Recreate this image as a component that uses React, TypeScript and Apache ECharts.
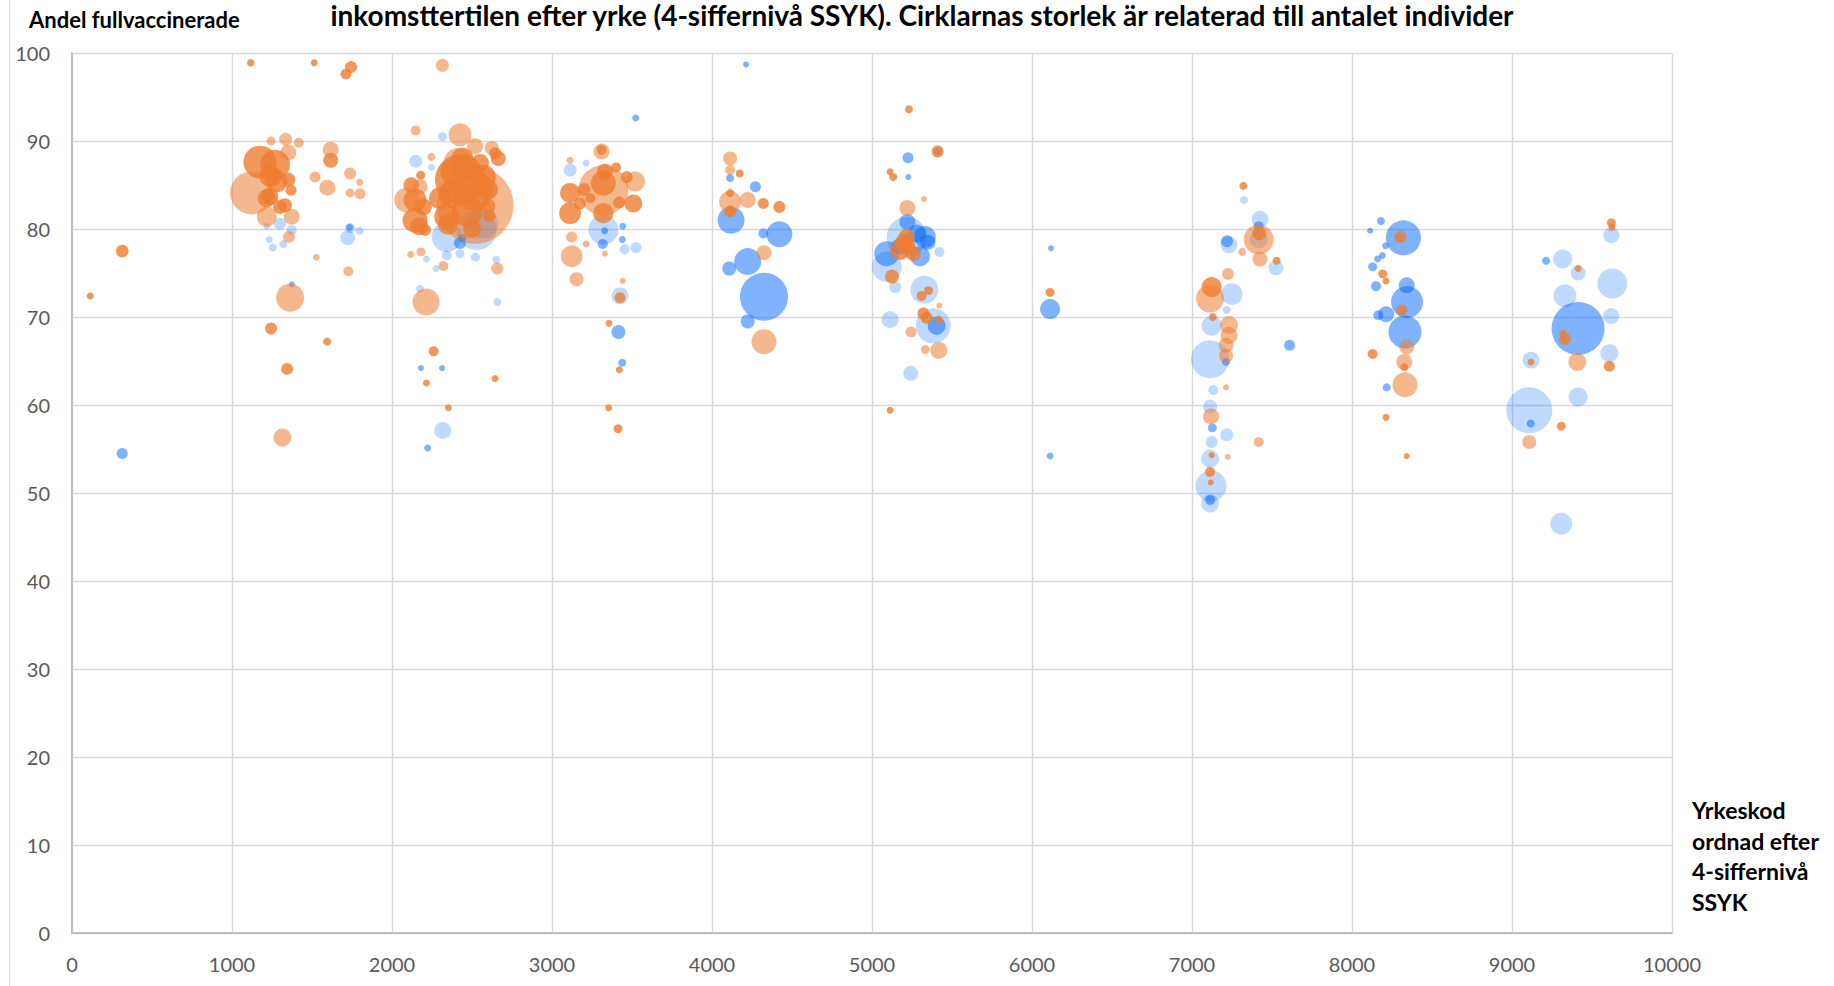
import React, { useEffect, useRef } from "react";
import * as echarts from "echarts";

// ---- Data: [yrkeskod, andel fullvaccinerade (%), antal individer] ----
const xMin = 0;
const xMax = 10000;
const xStep = 1000;
const yMin = 0;
const yMax = 100;
const yStep = 10;

const titleText =
  "inkomsttertilen efter yrke (4-siffernivå SSYK). Cirklarnas storlek är relaterad till antalet individer";
const yAxisName = "Andel fullvaccinerade";
const xAxisNameLines = ["Yrkeskod", "ordnad efter", "4-siffernivå", "SSYK"];

const blueLight: number[][] = [
  [1300, 80.6, 900], [1233, 78.8, 300], [1254, 77.9, 400], [1321, 78.3, 400], [1217, 80.3, 300],
  [1373, 79.9, 625], [1738, 80.1, 625], [1723, 79.0, 1400], [1796, 79.8, 400],
  [2315, 90.5, 500], [2148, 87.7, 1050], [2246, 87.0, 300], [2342, 79.1, 5600], [2529, 79.9, 10000],
  [2342, 77.0, 625], [2425, 77.2, 500], [2521, 76.8, 500], [2215, 76.6, 300], [2275, 75.5, 300],
  [2652, 76.5, 400], [2175, 73.2, 400], [2658, 71.7, 400], [2317, 57.1, 1800], [2571, 80.6, 5600],
  [3213, 87.5, 300], [3113, 86.7, 1050], [3321, 79.9, 5600], [3454, 77.7, 625], [3525, 77.9, 750],
  [3425, 72.4, 1800],
  [5217, 79.1, 10000], [5092, 75.7, 5600], [5421, 77.4, 625], [5144, 73.4, 900], [5327, 73.1, 4900],
  [5113, 69.7, 1800], [5383, 69.0, 7650], [5242, 63.6, 1400],
  [7325, 83.3, 400], [7425, 81.1, 1800], [7417, 78.8, 2000], [7231, 78.2, 1800], [7525, 75.6, 1400],
  [7248, 72.6, 3000], [7217, 70.8, 400], [7123, 69.0, 2500], [7113, 65.2, 9000], [7133, 61.7, 625],
  [7113, 59.8, 1225], [7217, 56.6, 1050], [7123, 55.8, 900], [7113, 53.9, 2000], [7119, 50.8, 6000],
  [7113, 48.8, 2000],
  [9621, 79.3, 1600], [9317, 76.6, 2250], [9413, 75.0, 1400], [9627, 73.8, 5600], [9331, 72.4, 3300],
  [9619, 70.1, 1600], [9608, 65.9, 2000], [9119, 65.1, 1800], [9413, 60.9, 2250], [9108, 59.4, 13200],
  [9308, 46.5, 3000],
];

const blueMid: number[][] = [
  [314, 54.5, 750], [1373, 73.7, 225], [1735, 80.2, 300],
  [2181, 64.2, 225], [2313, 64.2, 225], [2223, 55.1, 300], [2425, 78.4, 900], [2440, 79.0, 400],
  [3523, 92.6, 300], [3317, 78.3, 625], [3330, 79.8, 300], [3442, 80.3, 300], [3415, 68.3, 1225],
  [3439, 64.8, 400], [3440, 78.8, 300],
  [4213, 98.7, 225], [4113, 85.8, 400], [4271, 84.8, 750], [4119, 81.0, 4550], [4321, 79.5, 625],
  [4421, 79.4, 4200], [4223, 76.3, 4550], [4108, 75.5, 1225], [4325, 72.3, 14400], [4223, 69.5, 1225],
  [5225, 88.1, 750], [5227, 85.9, 225], [5410, 88.8, 400], [5221, 80.8, 1600], [5331, 79.1, 3000],
  [5350, 78.5, 1400], [5092, 77.2, 3900], [5300, 76.9, 2500], [5280, 79.5, 2000], [5404, 69.0, 2000],
  [5170, 78.0, 1600],
  [6119, 77.8, 225], [6113, 70.9, 2500], [6113, 54.2, 300],
  [7417, 80.3, 625], [7219, 78.6, 900], [7610, 66.8, 750], [7213, 64.9, 400], [7127, 57.4, 500],
  [7113, 49.2, 625],
  [8181, 80.9, 400], [8113, 79.8, 225], [8321, 79.0, 7650], [8210, 78.1, 300], [8190, 77.0, 300],
  [8160, 76.6, 300], [8129, 75.7, 500], [8150, 73.5, 625], [8342, 73.6, 1600], [8344, 71.7, 6400],
  [8213, 70.3, 1600], [8165, 70.2, 625], [8331, 68.3, 6800], [8217, 62.0, 400],
  [9213, 76.4, 400], [9413, 68.7, 17500], [9117, 57.9, 400],
];

const orangePale: number[][] = [
  [1244, 90.0, 500], [1335, 90.2, 1050], [1417, 89.8, 625], [1352, 88.7, 1600], [1123, 84.1, 11550],
  [1217, 81.4, 2500], [1373, 81.4, 1600], [1356, 79.1, 900], [1519, 85.9, 750], [1617, 89.0, 1600],
  [1596, 84.7, 1600], [1738, 86.3, 900], [1798, 85.3, 300], [1738, 84.1, 500], [1800, 84.0, 750],
  [1527, 76.8, 300], [1727, 75.2, 625], [1363, 72.2, 4900], [1315, 56.3, 2000],
  [2315, 98.6, 1050], [2148, 91.2, 625], [2425, 90.7, 3300], [2519, 89.4, 1600], [2623, 89.2, 1225],
  [2246, 88.2, 400], [2092, 83.3, 3900], [2175, 84.8, 1400], [2519, 82.7, 37000], [2415, 87.5, 5600],
  [2117, 77.1, 300], [2181, 77.4, 500], [2321, 75.8, 625], [2658, 75.5, 900], [2213, 71.7, 4550],
  [3113, 87.8, 300], [3310, 88.8, 1600], [3321, 84.4, 15600], [3519, 85.4, 2500], [3214, 78.3, 300],
  [3331, 77.2, 225], [3123, 79.1, 750], [3123, 76.9, 3000], [3154, 74.3, 1225], [3442, 74.1, 225],
  [4113, 88.0, 1225], [4113, 86.7, 625], [4113, 83.1, 3000], [4223, 83.3, 1600], [4325, 77.3, 1400],
  [4325, 67.2, 3900],
  [5325, 83.4, 225], [5221, 82.4, 1600], [5421, 71.3, 225], [5244, 68.3, 750], [5333, 66.3, 500],
  [5417, 66.2, 1800],
  [7417, 78.8, 5600], [7425, 76.6, 1400], [7314, 77.4, 400], [7225, 74.9, 900], [7113, 72.1, 4900],
  [7231, 69.1, 2000], [7231, 67.9, 1800], [7213, 66.8, 1400], [7213, 65.6, 1225], [7213, 62.0, 225],
  [7119, 58.7, 1600], [7417, 55.8, 625], [7223, 54.1, 225],
  [8342, 66.6, 1400], [8327, 64.9, 1600], [8331, 62.3, 3900],
  [9408, 64.9, 2000], [9108, 55.8, 1225],
];

const orangeSolid: number[][] = [
  [314, 77.5, 1000], [114, 72.4, 300],
  [1117, 98.9, 350], [1514, 98.9, 300], [1744, 98.4, 900], [1712, 97.6, 750], [1175, 87.6, 6800],
  [1269, 87.3, 5600], [1279, 85.4, 3000], [1352, 85.6, 1225], [1369, 84.4, 750], [1237, 83.7, 1800],
  [1300, 82.5, 1225], [1217, 83.5, 2000], [1331, 82.7, 1225], [1617, 87.8, 1400], [1244, 68.7, 900],
  [1594, 67.2, 400], [1344, 64.1, 900], [1240, 86.0, 3000],
  [2645, 88.6, 900], [2664, 88.0, 1400], [2179, 86.1, 500], [2144, 83.3, 3300], [2144, 81.0, 3900],
  [2196, 82.5, 1800], [2206, 79.9, 900], [2120, 85.0, 1500], [2170, 80.3, 2000],
  [2425, 85.6, 15600], [2508, 84.4, 10000], [2342, 81.4, 3900],
  [2571, 85.9, 3900], [2600, 82.6, 1400], [2610, 81.5, 900], [2470, 82.0, 6000], [2380, 86.5, 4000],
  [2550, 87.5, 2000], [2300, 83.5, 3000], [2380, 84.0, 5000], [2460, 87.0, 4000], [2600, 84.5, 2500],
  [2350, 80.5, 2500], [2500, 80.0, 2000],
  [2260, 66.1, 625], [2215, 62.5, 300], [2644, 63.0, 300], [2352, 59.7, 300],
  [2440, 88.0, 3000],
  [3310, 89.0, 600], [3321, 85.2, 3900], [3113, 84.1, 2500], [3113, 81.8, 3000], [3321, 81.8, 2500],
  [3508, 82.9, 2000], [3467, 85.9, 900], [3400, 87.0, 625], [3175, 82.9, 900], [3240, 83.5, 625],
  [3420, 83.0, 900], [3356, 69.3, 300], [3425, 72.2, 750], [3421, 64.0, 300], [3354, 59.7, 300],
  [3413, 57.3, 500], [3330, 86.5, 1600], [3200, 84.5, 1000],
  [4173, 86.3, 400], [4113, 84.1, 400], [4321, 82.9, 750], [4421, 82.5, 900], [4113, 82.0, 900],
  [5231, 93.6, 400], [5410, 88.8, 900], [5113, 86.5, 300], [5133, 85.9, 400], [5217, 79.1, 1600],
  [5175, 77.6, 2500], [5258, 77.2, 1400], [5225, 78.0, 1400], [5125, 74.6, 1225], [5354, 73.0, 500],
  [5310, 72.4, 625], [5321, 70.4, 900], [5342, 69.9, 900], [5417, 69.7, 400], [5113, 59.4, 300],
  [5200, 78.5, 1800],
  [6113, 72.8, 500],
  [7321, 84.9, 400], [7529, 76.4, 400], [7123, 73.4, 2500], [7130, 70.0, 400], [7117, 51.2, 225],
  [7113, 52.4, 625], [7123, 54.3, 225], [7420, 79.5, 1200],
  [8302, 79.1, 900], [8192, 74.9, 500], [8213, 74.1, 300], [8311, 70.8, 750], [8129, 65.8, 625],
  [8327, 64.3, 400], [8213, 58.6, 300], [8342, 54.2, 225],
  [9621, 80.7, 500], [9625, 80.2, 300], [9413, 75.5, 300], [9321, 68.1, 400], [9331, 67.5, 900],
  [9608, 64.4, 750], [9119, 64.9, 300], [9308, 57.6, 500],
];

const SIZE_FACTOR = 0.4;
const FONT = "Lato, 'Liberation Sans', sans-serif";

function bubble(name: string, data: number[][], color: string) {
  return {
    name,
    type: "scatter",
    data,
    symbol: "circle",
    symbolSize: (v: number[]) => Math.sqrt(v[2]) * SIZE_FACTOR,
    itemStyle: { color, borderWidth: 0, opacity: 1 },
    emphasis: { disabled: true },
    silent: true,
  };
}

export default function App() {
  const ref = useRef<HTMLDivElement>(null);
  useEffect(() => {
    document.body.style.margin = "0";
    const chart = echarts.init(ref.current!, null, { renderer: "svg" });
    chart.setOption({
      animation: false,
      backgroundColor: "#ffffff",
      grid: { left: 72, top: 53, width: 1600, height: 880, containLabel: false },
      xAxis: {
        type: "value",
        min: xMin,
        max: xMax,
        interval: xStep,
        axisLine: { show: true, lineStyle: { color: "#bfbfbf", width: 2 } },
        axisTick: { show: false },
        splitLine: { show: true, lineStyle: { color: "#d9d9d9", width: 1.4 } },
        axisLabel: {
          color: "#595959",
          fontSize: 20,
          fontFamily: FONT,
          margin: 21,
          formatter: (v: number) => String(v),
        },
      },
      yAxis: {
        type: "value",
        min: yMin,
        max: yMax,
        interval: yStep,
        axisLine: { show: true, lineStyle: { color: "#bfbfbf", width: 2 } },
        axisTick: { show: false },
        splitLine: { show: true, lineStyle: { color: "#d9d9d9", width: 1.4 } },
        axisLabel: {
          color: "#595959",
          fontSize: 20,
          fontFamily: FONT,
          margin: 22,
          formatter: (v: number) => String(v),
        },
      },
      series: [
        bubble("Blå ljus", blueLight, "rgba(0,102,255,0.25)"),
        bubble("Blå", blueMid, "rgba(0,102,255,0.5)"),
        bubble("Orange ljus", orangePale, "rgba(237,125,49,0.55)"),
        bubble("Orange", orangeSolid, "rgba(237,125,49,0.8)"),
      ],
      graphic: [
        {
          type: "line",
          shape: { x1: 9.5, y1: 0, x2: 9.5, y2: 986 },
          style: { stroke: "#d9d9d9", lineWidth: 1 },
          silent: true,
        },
        {
          type: "text",
          x: 922,
          y: 1,
          style: {
            text: titleText,
            fill: "#000000",
            font: `bold 28px ${FONT}`,
            lineHeight: 28,
            align: "center",
            verticalAlign: "top",
          },
        },
        {
          type: "text",
          x: 29,
          y: 19,
          style: {
            text: yAxisName,
            fill: "#000000",
            font: `bold 22px ${FONT}`,
            align: "left",
            verticalAlign: "middle",
          },
        },
        ...xAxisNameLines.map((line, i) => ({
          type: "text",
          x: 1692,
          y: 810 + i * 30.5,
          style: {
            text: line,
            fill: "#000000",
            font: `bold 23px ${FONT}`,
            align: "left",
            verticalAlign: "middle",
          },
        })),
      ],
    });
    return () => chart.dispose();
  }, []);
  return <div ref={ref} style={{ width: 1834, height: 986 }} />;
}
